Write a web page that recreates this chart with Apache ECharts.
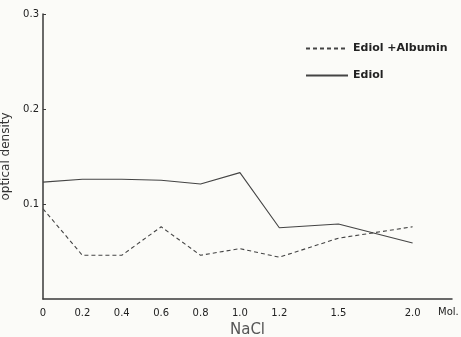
<!DOCTYPE html>
<html><head><meta charset="utf-8">
<script src="https://cdn.jsdelivr.net/npm/echarts@6/dist/echarts.min.js"></script>
<style>html,body{margin:0;padding:0;background:#fbfbf8}#c{width:461px;height:337px}</style>
</head><body><div id="c"></div>
<script>
const nacl = [0, 0.2, 0.4, 0.6, 0.8, 1.0, 1.2, 1.5, 2.0];
const ediol = [0.123, 0.126, 0.126, 0.125, 0.121, 0.133, 0.075, 0.079, 0.059];
const ediolAlbumin = [0.095, 0.046, 0.046, 0.076, 0.046, 0.053, 0.044, 0.064, 0.076];
const xTicks = [0, 0.2, 0.4, 0.6, 0.8, 1.0, 1.2, 1.5, 2.0];
const yTicks = [0.1, 0.2, 0.3];

const ink = '#3a3a3a';
const font = 'DejaVu Sans';
const chart = echarts.init(document.getElementById('c'));
chart.setOption({
  backgroundColor: '#fbfbf8',
  animation: false,
  grid: {left: 43, right: 9, top: 14, bottom: 38, outerBoundsMode: 'none', containLabel: false},
  legend: {
    left: 300, top: 38, orient: 'vertical', itemGap: 16,
    itemWidth: 42, itemHeight: 8,
    itemStyle: {opacity: 0},
    textStyle: {fontFamily: font, fontSize: 11, color: '#222', fontWeight: 'bold'},
    data: ['Ediol +Albumin', 'Ediol']
  },
  xAxis: [{
    type: 'value', min: 0, max: 2.2,
    breaks: [{start: 1.6, end: 1.8, gap: '3.7%'}],
    breakArea: {show: false, itemStyle: {opacity: 0, borderWidth: 0}},
    name: 'NaCl', nameLocation: 'middle', nameGap: 21,
    nameTextStyle: {fontFamily: font, fontSize: 15, color: '#555'},
    axisLine: {show: false},
    axisTick: {show: false},
    splitLine: {show: false},
    axisLabel: {
      customValues: xTicks, fontFamily: font, fontSize: 10, color: '#222', margin: 9,
      formatter: v => v === 0 ? '0' : v.toFixed(1)
    }
  }, {
    type: 'value', position: 'bottom', min: 0, max: 1,
    axisLine: {show: true, onZero: false, lineStyle: {color: ink, width: 1.5}},
    axisTick: {show: false}, axisLabel: {show: false}, splitLine: {show: false}
  }],
  yAxis: {
    type: 'value', min: 0, max: 0.3,
    name: 'optical density', nameLocation: 'middle', nameGap: 28, nameRotate: 90,
    nameTextStyle: {fontFamily: font, fontSize: 12, color: '#333'},
    axisLine: {show: true, lineStyle: {color: ink, width: 1.5}},
    axisTick: {show: true, customValues: yTicks, length: 3, inside: true, lineStyle: {color: ink}},
    splitLine: {show: false},
    axisLabel: {
      customValues: yTicks, fontFamily: font, fontSize: 10, color: '#222', margin: 4,
      formatter: v => v.toFixed(1)
    }
  },
  graphic: [{
    type: 'text', left: 438, top: 307,
    style: {text: 'Mol.', font: '10px "DejaVu Sans"', fill: '#222'}
  }],
  series: [
    {
      name: 'Ediol +Albumin', type: 'line', xAxisIndex: 0,
      data: nacl.map((x, i) => [x, ediolAlbumin[i]]),
      symbol: 'none',
      lineStyle: {color: '#444', width: 1.1, type: [4, 3]},
      itemStyle: {color: '#444'}
    },
    {
      name: 'Ediol', type: 'line', xAxisIndex: 0,
      data: nacl.map((x, i) => [x, ediol[i]]),
      symbol: 'none',
      lineStyle: {color: '#444', width: 1.1},
      itemStyle: {color: '#444'}
    }
  ]
});
</script></body></html>
